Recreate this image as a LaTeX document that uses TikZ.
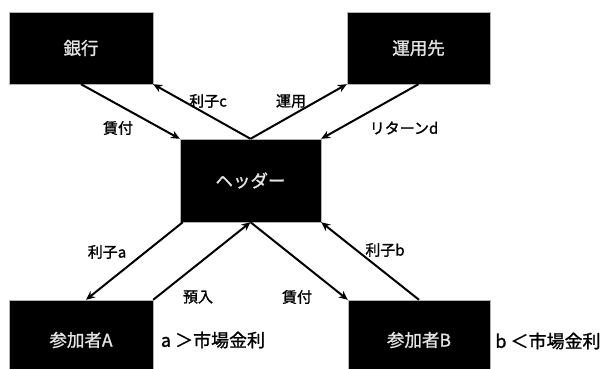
\documentclass[tikz,border=0pt]{standalone}
\usepackage{fontspec}
\setmainfont{Noto Sans CJK JP}
\newfontfamily\boldishjp[FakeBold=1.2]{Noto Sans CJK JP}
\usetikzlibrary{arrows.meta}
\tikzset{
  blackbox/.style={fill=black, draw=gray!60, line width=0.4pt, text=white!90!black, inner sep=0pt, font=\boldishjp\fontsize{17.5}{20}\selectfont},
  lbl/.style={inner sep=0pt, font=\boldishjp\fontsize{15}{17}\selectfont},
  cond/.style={inner sep=0pt, font=\boldishjp\fontsize{18}{21}\selectfont},
  flow/.style={line width=2pt, -{Stealth[length=9pt,width=8pt]}}
}
\begin{document}
\begin{tikzpicture}[x=1pt,y=-1pt]
\useasboundingbox (0,0) rectangle (602,369);
\clip (0,0) rectangle (602,369);
\node[blackbox, minimum width=144pt, minimum height=72pt] (bank) at (81,48) {銀行};
\node[blackbox, minimum width=143pt, minimum height=72pt] (unyo) at (418.5,48) {運用先};
\node[blackbox, minimum width=141pt, minimum height=83pt] (hdr) at (250.5,180.5) {ヘッダー};
\node[blackbox, minimum width=144pt, minimum height=80pt] (pa) at (81,340) {参加者A};
\node[blackbox, minimum width=142pt, minimum height=80pt] (pb) at (419,340) {参加者B};

\draw[flow] (bank.south) -- (hdr.north west);
\draw[flow] (hdr.north) -- (bank.south east);
\draw[flow] (hdr.north) -- (unyo.south west);
\draw[flow] (unyo.south) -- (hdr.north east);
\draw[flow] ([xshift=3pt]hdr.south west) -- ([xshift=5pt]pa.north);
\draw[flow] (pa.north east) -- (hdr.south);
\draw[flow] (hdr.south) -- (pb.north west);
\draw[flow] (pb.north) -- (hdr.south east);

\node[lbl] (l1) at (118,128) {賃付};
\node[lbl] (l2) at (208,101) {利子c};
\node[lbl] (l3) at (291,101) {運用};
\node[lbl] (l4) at (404,128) {リターンd};
\node[lbl] (l5) at (107,252) {利子a};
\node[lbl] (l6) at (385,250) {利子b};
\node[lbl] (l7) at (198,297) {預入};
\node[lbl] (l8) at (297,297) {賃付};
\node[cond] (c1) at (213,340) {a ＞市場金利};
\node[cond] (c2) at (548,341) {b ＜市場金利};
\end{tikzpicture}
\end{document}
